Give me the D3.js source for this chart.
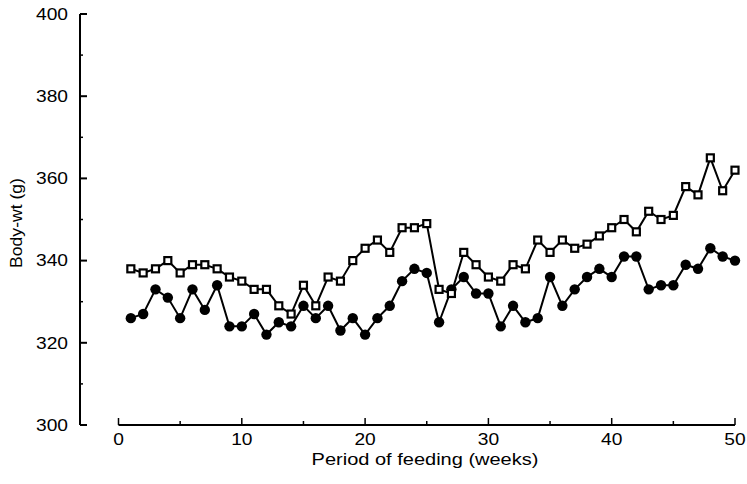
<!DOCTYPE html>
<html lang="en">
<head>
<meta charset="utf-8">
<script src="https://cdnjs.cloudflare.com/ajax/libs/d3/7.8.5/d3.min.js"></script>
<style>
  body { margin: 0; background: #fff; }
  svg { display: block; }
</style>
</head>
<body>
<script>
// weeks of feeding
var weeks = d3.range(1, 51)

// open squares (upper series), body weight in g
var squares = [338, 337, 338, 340, 337, 339, 339, 338, 336, 335,
               333, 333, 329, 327, 334, 329, 336, 335, 340, 343,
               345, 342, 348, 348, 349, 333, 332, 342, 339, 336,
               335, 339, 338, 345, 342, 345, 343, 344, 346, 348,
               350, 347, 352, 350, 351, 358, 356, 365, 357, 362]

// filled circles (lower series)
var circles = [326, 327, 333, 331, 326, 333, 328, 334, 324, 324,
               327, 322, 325, 324, 329, 326, 329, 323, 326, 322,
               326, 329, 335, 338, 337, 325, 333, 336, 332, 332,
               324, 329, 325, 326, 336, 329, 333, 336, 338, 336,
               341, 341, 333, 334, 334, 339, 338, 343, 341, 340]

var xTicks = [0, 10, 20, 30, 40, 50]
var yTicks = [300, 320, 340, 360, 380, 400]

var width = 747
var height = 484
var font = "'Liberation Sans', Arial, sans-serif"
var stretch = 1.2   // the scanned lettering is wider than Arial

var svg = d3.select("body").append("svg")
    .attr("width", width)
    .attr("height", height)
    .attr("font-family", font)

var x = d3.scaleLinear().domain([0, 50]).range([118.5, 735])
var y = d3.scaleLinear().domain([300, 400]).range([425, 14])

// y axis, ticks pointing right into the plot
var yAxisG = svg.append("g").attr("transform", "translate(80,0)")
yAxisG.append("line")
    .attr("x1", 0).attr("x2", 0)
    .attr("y1", y(400)).attr("y2", y(300))
    .attr("stroke", "#000").attr("stroke-width", 2)
yAxisG.selectAll(".minor")
    .data(d3.range(310, 400, 20))
    .join("line")
    .attr("x1", 0).attr("x2", 3)
    .attr("y1", d => y(d)).attr("y2", d => y(d))
    .attr("stroke", "#000").attr("stroke-width", 1.5)
yAxisG.selectAll(".major")
    .data(yTicks)
    .join("line")
    .attr("x1", 0).attr("x2", 7)
    .attr("y1", d => y(d)).attr("y2", d => y(d))
    .attr("stroke", "#000").attr("stroke-width", 2)
yAxisG.selectAll("text")
    .data(yTicks)
    .join("text")
    .attr("transform", d => `translate(-12,${y(d)}) scale(${stretch},1)`)
    .attr("dy", "0.36em")
    .attr("text-anchor", "end")
    .attr("font-size", 16)
    .text(d => d)

// x axis, ticks pointing up
var xAxisG = svg.append("g").attr("transform", "translate(0,425)")
xAxisG.append("line")
    .attr("x1", x(0)).attr("x2", x(50))
    .attr("y1", 0).attr("y2", 0)
    .attr("stroke", "#000").attr("stroke-width", 2)
xAxisG.selectAll(".minor")
    .data(d3.range(5, 50, 10))
    .join("line")
    .attr("x1", d => x(d)).attr("x2", d => x(d))
    .attr("y1", 0).attr("y2", -4)
    .attr("stroke", "#000").attr("stroke-width", 1.5)
xAxisG.selectAll(".major")
    .data(xTicks)
    .join("line")
    .attr("x1", d => x(d)).attr("x2", d => x(d))
    .attr("y1", 0).attr("y2", -7)
    .attr("stroke", "#000").attr("stroke-width", 1.5)
xAxisG.selectAll("text")
    .data(xTicks)
    .join("text")
    .attr("transform", d => `translate(${x(d)},20) scale(${stretch},1)`)
    .attr("text-anchor", "middle")
    .attr("font-size", 16)
    .text(d => d)

// axis titles
svg.append("text")
    .attr("transform", "translate(425,465) scale(1.25,1)")
    .attr("text-anchor", "middle")
    .attr("font-size", 16)
    .text("Period of feeding (weeks)")

svg.append("text")
    .attr("transform", "translate(21.5,223) rotate(-90) scale(1.1,1)")
    .attr("text-anchor", "middle")
    .attr("font-size", 16)
    .text("Body-wt (g)")

// series lines
var line = d3.line()
    .x(d => x(d[0]))
    .y(d => y(d[1]))

var sqData = weeks.map((w, i) => [w, squares[i]])
var ciData = weeks.map((w, i) => [w, circles[i]])

svg.append("path")
    .datum(sqData)
    .attr("d", line)
    .attr("fill", "none")
    .attr("stroke", "#000")
    .attr("stroke-width", 2)

svg.append("path")
    .datum(ciData)
    .attr("d", line)
    .attr("fill", "none")
    .attr("stroke", "#000")
    .attr("stroke-width", 2)

// markers
svg.append("g").selectAll("circle")
    .data(ciData)
    .join("circle")
    .attr("cx", d => x(d[0]))
    .attr("cy", d => y(d[1]))
    .attr("r", 5.2)
    .attr("fill", "#000")

var s = 7
svg.append("g").selectAll("rect")
    .data(sqData)
    .join("rect")
    .attr("x", d => x(d[0]) - s / 2)
    .attr("y", d => y(d[1]) - s / 2)
    .attr("width", s)
    .attr("height", s)
    .attr("fill", "#fff")
    .attr("stroke", "#000")
    .attr("stroke-width", 2.2)
</script>
</body>
</html>
